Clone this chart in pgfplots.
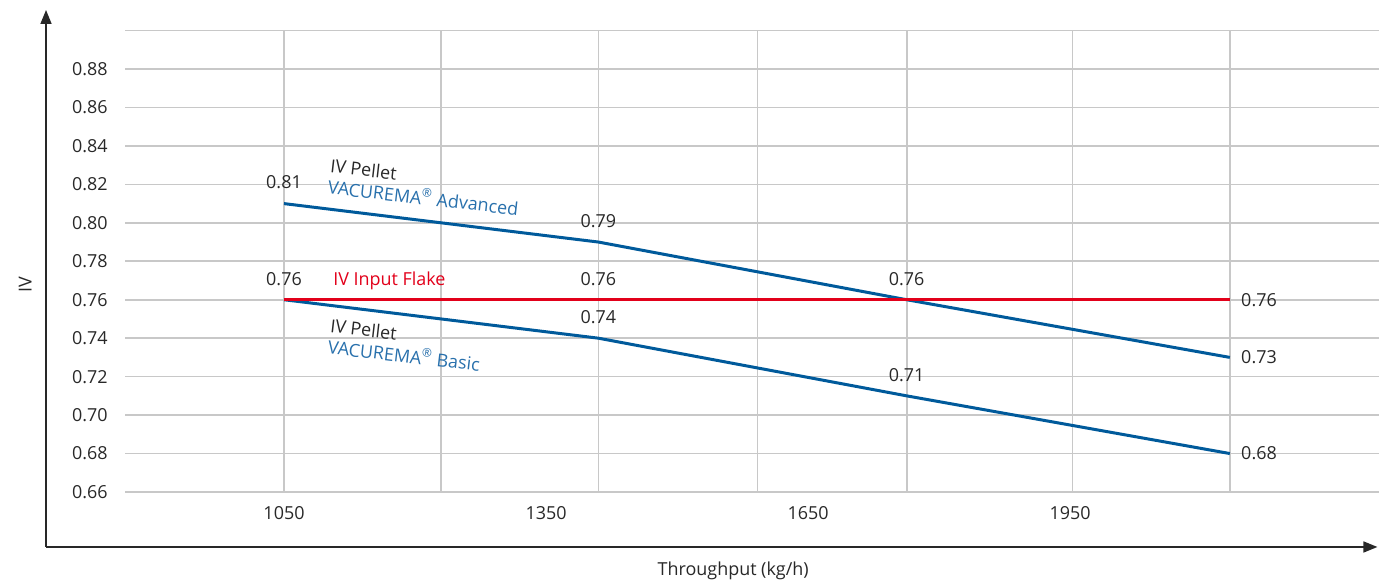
\documentclass[border=0pt]{standalone}
\usepackage{fontspec}
\setmainfont{Open Sans}
\usepackage{pgfplots}
\pgfplotsset{compat=1.18}
\usetikzlibrary{arrows.meta}
\definecolor{lineblue}{RGB}{0,90,155}
\definecolor{textblue}{RGB}{40,112,172}
\definecolor{flakered}{RGB}{226,0,26}
\definecolor{txt}{RGB}{40,40,40}
\definecolor{gridgray}{RGB}{200,200,200}
\newcommand{\fs}{\fontsize{9}{10.8}\selectfont}
\begin{document}
\begin{tikzpicture}
\begin{axis}[
  scale only axis, width=627bp, height=230.7bp,
  xmin=868, xmax=2304, ymin=0.66, ymax=0.90,
  axis x line*=bottom, axis y line*=left,
  axis line style={draw=none},
  clip=false,
  xtick={1050,1350,1650,1950},
  ytick={0.66,0.68,0.70,0.72,0.74,0.76,0.78,0.80,0.82,0.84,0.86,0.88},
  extra x ticks={1050,1230,1410,1592,1763,1953,2133},
  extra x tick labels={},
  extra y ticks={0.90}, extra y tick labels={},
  extra tick style={grid=major, major tick length=0pt},
  ymajorgrids,
  major tick length=0pt,
  grid style={gridgray, line width=0.8bp},
  /pgf/number format/assume math mode=true,
  ticklabel style={font=\fs, text=txt, inner sep=0pt},
  yticklabel style={/pgf/number format/.cd, fixed, fixed zerofill, precision=2, /tikz/.cd, anchor=east, xshift=-8.5bp},
  xticklabel style={/pgf/number format/set thousands separator={}, anchor=north, yshift=-7bp},
  xlabel={Throughput (kg/h)},
  ylabel={IV},
  label style={font=\fs, text=txt},
  xlabel style={at={(axis description cs:0.4849,-0.1712)}, anchor=center},
  ylabel style={at={(axis description cs:-0.0797,0.4486)}, anchor=center, rotate=0},
]
% lines
\addplot[lineblue, line width=1.5bp, mark=none] coordinates {(1050,0.81) (1410,0.79) (1763,0.76) (2133,0.73)};
\addplot[lineblue, line width=1.5bp, mark=none] coordinates {(1050,0.76) (1410,0.74) (1763,0.71) (2133,0.68)};
\addplot[flakered, line width=1.5bp, mark=none] coordinates {(1050,0.76) (1410,0.76) (1763,0.76) (2133,0.76)};
% value labels above
\addplot[draw=none, mark=none, forget plot, nodes near coords, point meta=explicit symbolic,
  nodes near coords align=above,
  every node near coord/.append style={font=\fs, text=txt, inner sep=0pt, yshift=7bp}]
  coordinates {(1050,0.81)[0.81] (1410,0.79)[0.79] (1763,0.76)[0.76]
               (1050,0.76)[0.76] (1410,0.76)[0.76]
               (1410,0.74)[0.74] (1763,0.71)[0.71]};
% value labels right
\addplot[draw=none, mark=none, forget plot, nodes near coords, point meta=explicit symbolic,
  nodes near coords align=right,
  every node near coord/.append style={font=\fs, text=txt, inner sep=0pt, xshift=5.5bp}]
  coordinates {(2133,0.76)[0.76] (2133,0.73)[0.73] (2133,0.68)[0.68]};
% annotations
\node[rotate=-6.5, anchor=north west, inner sep=0pt, align=left, font=\fs, text=txt] at (axis cs:1103.8,0.8335)
  {IV Pellet\\\textcolor{textblue}{VACUREMA\textsuperscript{®} Advanced}};
\node[rotate=-6.5, anchor=north west, inner sep=0pt, align=left, font=\fs, text=txt] at (axis cs:1103.8,0.7503)
  {IV Pellet\\\textcolor{textblue}{VACUREMA\textsuperscript{®} Basic}};
\node[anchor=west, inner sep=0pt, font=\fs, text=flakered] at (axis cs:1106,0.7698) {IV Input Flake};
% axis arrows
\draw[txt, line width=0.8bp, -{Triangle[length=7bp,width=5.5bp]}] (axis cs:777.5,0.6314) -- (axis cs:777.5,0.9107);
\draw[txt, line width=0.8bp, -{Triangle[length=7bp,width=5.5bp]}] (axis cs:777.5,0.6314) -- (axis cs:2302,0.6314);
\coordinate (bbsw) at (axis cs:724.8,0.6121);
\coordinate (bbne) at (axis cs:2303.8,0.9159);
\end{axis}
\pgfresetboundingbox
\path[use as bounding box] (bbsw) rectangle (bbne);
\end{tikzpicture}
\end{document}
